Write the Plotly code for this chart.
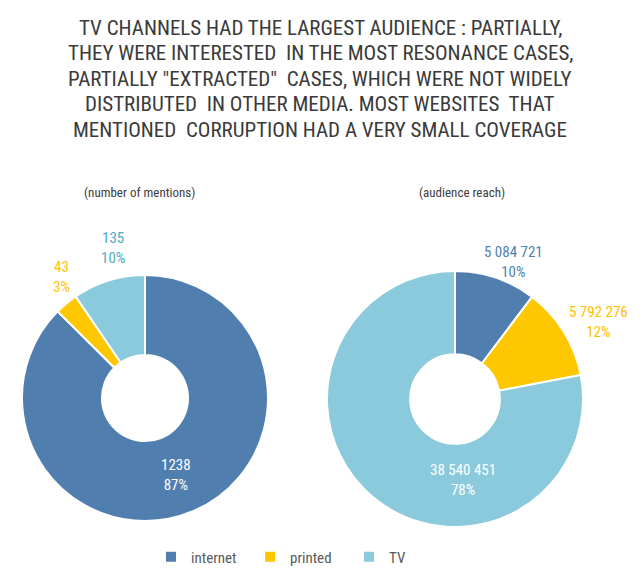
import plotly.graph_objects as go

categories = ["internet", "printed", "TV"]
mentions = [1238, 43, 135]
audience = [5084721, 5792276, 38540451]
slice_colors = ["#507EAE", "#FFC700", "#8BCADC"]
label_colors_left = ["#FFFFFF", "#FFC000", "#4BACC6"]
label_colors_right = ["#4F7FAE", "#FFC000", "#FFFFFF"]
subtitles = ["(number of mentions)", "(audience reach)"]
title_lines = [
    "TV CHANNELS HAD THE LARGEST AUDIENCE : PARTIALLY,",
    "THEY WERE INTERESTED  IN THE MOST RESONANCE CASES,",
    "PARTIALLY \"EXTRACTED\"  CASES, WHICH WERE NOT WIDELY",
    "DISTRIBUTED  IN OTHER MEDIA. MOST WEBSITES  THAT",
    "MENTIONED  CORRUPTION HAD A VERY SMALL COVERAGE",
]

W, H = 643, 582
FONT = "Roboto Condensed, Liberation Sans Narrow, Roboto, sans-serif"

def px(x):
    return x / W

def py(y):
    return 1 - y / H

fig = go.Figure()
fig.add_trace(go.Pie(
    labels=categories, values=mentions, hole=0.35, sort=False,
    direction="clockwise", rotation=0, textinfo="none", hoverinfo="label+value+percent",
    marker=dict(colors=slice_colors, line=dict(color="white", width=2)),
    domain=dict(x=[px(22), px(268)], y=[py(521), py(275)]),
    showlegend=True,
))
fig.add_trace(go.Pie(
    labels=categories, values=audience, hole=0.35, sort=False,
    direction="clockwise", rotation=0, textinfo="none", hoverinfo="label+value+percent",
    marker=dict(colors=slice_colors, line=dict(color="white", width=2)),
    domain=dict(x=[px(327), px(583)], y=[py(527), py(271)]),
    showlegend=False,
))

annotations = []
# title
for i, line in enumerate(title_lines):
    annotations.append(dict(
        text=line, x=px(320), y=py(27.5 + 25.6 * i), xref="paper", yref="paper",
        showarrow=False, xanchor="center", yanchor="middle",
        font=dict(family=FONT, size=21, color="#3A3A3A"),
    ))
# subtitles
for txt, cx in zip(subtitles, [139, 462]):
    annotations.append(dict(
        text=txt, x=px(cx), y=py(193), xref="paper", yref="paper",
        showarrow=False, xanchor="center", yanchor="middle",
        font=dict(family=FONT, size=13, color="#404040"),
    ))

def fmt_left(v):
    return str(v)

def fmt_right(v):
    return f"{v:,}".replace(",", " ")

def pct(vals):
    s = sum(vals)
    return [round(v / s * 100) for v in vals]

left_pos = [(176, 475), (62, 277), (113, 248)]
right_pos = [(513, 262), (598, 322), (463, 480)]

for vals, fmt, cols, pos in [
    (mentions, fmt_left, label_colors_left, left_pos),
    (audience, fmt_right, label_colors_right, right_pos),
]:
    ps = pct(vals)
    for v, p, c, (x, y) in zip(vals, ps, cols, pos):
        annotations.append(dict(
            text=f"{fmt(v)}<br>{p}%", x=px(x), y=py(y), xref="paper", yref="paper",
            showarrow=False, xanchor="center", yanchor="middle",
            font=dict(family=FONT, size=15, color=c),
        ))

fig.update_layout(
    width=W, height=H,
    margin=dict(l=0, r=0, t=0, b=0),
    paper_bgcolor="white", plot_bgcolor="white",
    annotations=annotations,
    legend=dict(
        orientation="h", x=px(151), xanchor="left", y=py(557), yanchor="middle",
        font=dict(family=FONT, size=15, color="#595959"),
        entrywidth=54, entrywidthmode="pixels",
        itemclick=False, itemdoubleclick=False,
    ),
)

fig.write_html(
    "out.html",
    config={"displayModeBar": False},
    post_script="document.body.style.margin='0';document.body.style.padding='0';",
)
